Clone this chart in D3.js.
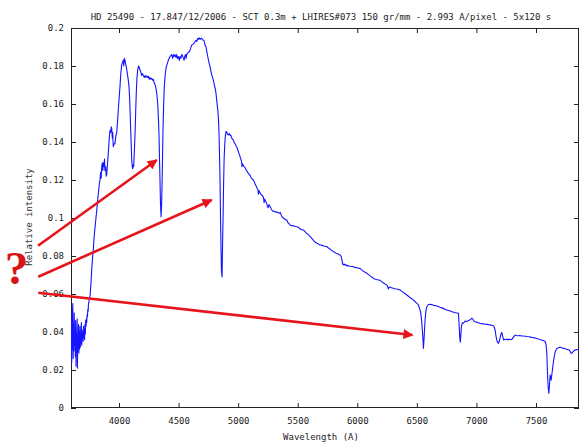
<!DOCTYPE html>
<html>
<head>
<meta charset="utf-8">
<script src="https://cdnjs.cloudflare.com/ajax/libs/d3/7.8.5/d3.min.js"></script>
<style>
  body { margin: 0; background: #fff; }
  svg { display: block; }
  .tick text { font-family: "DejaVu Sans Mono", monospace; font-size: 9px; fill: #222; }
  .tick line { stroke: #222; }
</style>
</head>
<body>
<div id="graph"></div>
<script>
const w = 587;
const h = 444;
const margin = { top: 28, right: 8, bottom: 36, left: 71 };

const title = "HD 25490 - 17.847/12/2006 - SCT 0.3m + LHIRES#073 150 gr/mm - 2.993 A/pixel - 5x120 s";
const xLabel = "Wavelength (A)";
const yLabel = "Relative intensity";

const xTicks = [4000, 4500, 5000, 5500, 6000, 6500, 7000, 7500];
const xTickLabels = ["4000", "4500", "5000", "5500", "6000", "6500", "7000", "7500"];
const yTicks = [0, 0.02, 0.04, 0.06, 0.08, 0.1, 0.12, 0.14, 0.16, 0.18, 0.2];
const yTickLabels = ["0", "0.02", "0.04", "0.06", "0.08", "0.1", "0.12", "0.14", "0.16", "0.18", "0.2"];

// spectrum
const wavelength = [
  3597, 3600, 3603, 3606, 3609, 3612, 3615, 3618, 3621, 3624, 3627, 3630, 3633, 3636, 3639, 3642, 3645, 3648, 3651, 3654,
  3657, 3660, 3663, 3666, 3669, 3672, 3675, 3678, 3681, 3684, 3687, 3690, 3693, 3696, 3699, 3702, 3705, 3708, 3711, 3714,
  3717, 3720, 3723, 3726, 3729, 3732, 3735, 3738, 3741, 3744, 3748, 3752, 3757, 3765, 3772, 3778, 3784, 3790, 3797, 3805,
  3813, 3820, 3827, 3833, 3840, 3846, 3850, 3855, 3860, 3864, 3868, 3874, 3878, 3882, 3888, 3893, 3897, 3903, 3910, 3917,
  3924, 3930, 3935, 3939, 3944, 3947, 3952, 3958, 3966, 3973, 3981, 3988, 3994, 4001, 4008, 4015, 4023, 4030, 4036, 4040,
  4044, 4050, 4056, 4063, 4070, 4077, 4084, 4090, 4095, 4101, 4107, 4111, 4115, 4119, 4123, 4128, 4134, 4140, 4145, 4151,
  4157, 4163, 4168, 4175, 4182, 4190, 4197, 4204, 4212, 4220, 4226, 4233, 4240, 4247, 4254, 4260, 4268, 4275, 4282, 4288,
  4296, 4304, 4311, 4318, 4325, 4331, 4336, 4340, 4344, 4348, 4353, 4357, 4361, 4365, 4369, 4374, 4380, 4387, 4395, 4404,
  4414, 4428, 4442, 4450, 4456, 4463, 4470, 4478, 4484, 4490, 4498, 4506, 4512, 4519, 4526, 4533, 4540, 4546, 4552, 4558,
  4563, 4568, 4578, 4590, 4600, 4610, 4622, 4630, 4638, 4646, 4654, 4660, 4666, 4674, 4682, 4690, 4694, 4700, 4708, 4714,
  4722, 4730, 4736, 4745, 4754, 4764, 4772, 4780, 4792, 4800, 4808, 4814, 4820, 4825, 4829, 4835, 4840, 4844, 4848, 4852,
  4856, 4860, 4865, 4869, 4873, 4878, 4882, 4887, 4892, 4898, 4904, 4910, 4918, 4925, 4932, 4938, 4946, 4953, 4960, 4968,
  4975, 4982, 4988, 4996, 5004, 5010, 5016, 5022, 5028, 5032, 5037, 5041, 5050, 5058, 5065, 5072, 5080, 5090, 5100, 5110,
  5120, 5128, 5135, 5142, 5150, 5160, 5166, 5170, 5175, 5182, 5190, 5200, 5206, 5212, 5218, 5222, 5230, 5240, 5246, 5252,
  5258, 5264, 5268, 5276, 5285, 5295, 5305, 5315, 5324, 5335, 5345, 5352, 5362, 5370, 5380, 5390, 5400, 5408, 5418, 5428,
  5436, 5446, 5458, 5470, 5480, 5492, 5505, 5515, 5525, 5537, 5547, 5560, 5572, 5585, 5595, 5604, 5615, 5625, 5635, 5648,
  5660, 5670, 5680, 5692, 5705, 5720, 5732, 5744, 5755, 5767, 5780, 5790, 5799, 5810, 5822, 5835, 5846, 5856, 5864, 5870,
  5876, 5883, 5890, 5897, 5904, 5911, 5922, 5935, 5950, 5967, 5980, 5995, 6010, 6023, 6035, 6050, 6065, 6080, 6095, 6110,
  6125, 6135, 6148, 6162, 6176, 6191, 6205, 6220, 6235, 6248, 6255, 6261, 6267, 6275, 6285, 6295, 6303, 6315, 6330, 6345,
  6359, 6375, 6390, 6405, 6415, 6430, 6445, 6460, 6471, 6482, 6493, 6505, 6513, 6520, 6527, 6533, 6540, 6546, 6550, 6555,
  6560, 6565, 6569, 6576, 6583, 6597, 6611, 6625, 6640, 6655, 6667, 6680, 6695, 6710, 6725, 6740, 6751, 6765, 6780, 6795,
  6810, 6825, 6840, 6849, 6853, 6857, 6861, 6865, 6870, 6874, 6882, 6890, 6898, 6905, 6912, 6919, 6930, 6940, 6950, 6961,
  6968, 6975, 6982, 6989, 7000, 7015, 7031, 7045, 7060, 7075, 7090, 7105, 7120, 7135, 7143, 7150, 7157, 7164, 7171, 7178,
  7185, 7192, 7199, 7206, 7213, 7220, 7227, 7235, 7245, 7255, 7265, 7275, 7285, 7297, 7305, 7315, 7325, 7335, 7350, 7365,
  7380, 7395, 7410, 7425, 7440, 7455, 7470, 7485, 7500, 7507, 7520, 7535, 7550, 7565, 7577, 7584, 7591, 7595, 7599, 7603,
  7608, 7613, 7619, 7623, 7627, 7634, 7641, 7650, 7661, 7672, 7683, 7694, 7705, 7715, 7726, 7736, 7750, 7765, 7778, 7785,
  7792, 7800, 7810, 7820, 7835, 7850, 7862
];
const intensity = [
  0.028, 0.047, 0.024, 0.052, 0.031, 0.055, 0.026, 0.044, 0.030, 0.050, 0.033, 0.041, 0.027, 0.046, 0.022, 0.039, 0.030, 0.047, 0.021, 0.037,
  0.033, 0.044, 0.029, 0.040, 0.031, 0.043, 0.032, 0.038, 0.034, 0.045, 0.033, 0.041, 0.036, 0.039, 0.035, 0.043, 0.037, 0.041, 0.036, 0.044,
  0.039, 0.046, 0.043, 0.047, 0.045, 0.049, 0.048, 0.052, 0.051, 0.055, 0.056, 0.058, 0.059, 0.066, 0.074, 0.079, 0.083, 0.089, 0.094, 0.099,
  0.104, 0.109, 0.113, 0.117, 0.120, 0.124, 0.121, 0.127, 0.129, 0.125, 0.129, 0.127, 0.131, 0.125, 0.127, 0.122, 0.123, 0.128, 0.134, 0.141,
  0.146, 0.145, 0.148, 0.147, 0.142, 0.145, 0.1375, 0.139, 0.139, 0.143, 0.145, 0.151, 0.157, 0.163, 0.169, 0.176, 0.181, 0.182, 0.183, 0.180,
  0.184, 0.183, 0.181, 0.179, 0.176, 0.173, 0.169, 0.162, 0.152, 0.141, 0.1305, 0.127, 0.126, 0.128, 0.127, 0.134, 0.143, 0.156, 0.166, 0.174,
  0.178, 0.180, 0.1797, 0.178, 0.177, 0.175, 0.176, 0.175, 0.174, 0.175, 0.174, 0.1747, 0.174, 0.1745, 0.173, 0.174, 0.173, 0.1735, 0.1725, 0.173,
  0.171, 0.170, 0.168, 0.165, 0.160, 0.152, 0.143, 0.131, 0.120, 0.108, 0.1007, 0.106, 0.1165, 0.131, 0.146, 0.158, 0.169, 0.175, 0.179, 0.181,
  0.183, 0.185, 0.186, 0.184, 0.186, 0.185, 0.186, 0.1845, 0.186, 0.184, 0.185, 0.183, 0.185, 0.184, 0.186, 0.1855, 0.184, 0.183, 0.185, 0.186,
  0.184, 0.186, 0.187, 0.1875, 0.189, 0.191, 0.1915, 0.192, 0.1928, 0.1935, 0.193, 0.1945, 0.194, 0.1948, 0.194, 0.1946, 0.1946, 0.194, 0.1935, 0.1933,
  0.191, 0.190, 0.188, 0.185, 0.182, 0.1797, 0.177, 0.175, 0.1726, 0.170, 0.168, 0.1656, 0.162, 0.159, 0.157, 0.152, 0.143, 0.132, 0.120, 0.100,
  0.085, 0.072, 0.069, 0.085, 0.099, 0.118, 0.1305, 0.138, 0.143, 0.1455, 0.1455, 0.144, 0.1437, 0.1445, 0.1435, 0.1437, 0.142, 0.1415, 0.141, 0.1395,
  0.139, 0.138, 0.1375, 0.136, 0.1345, 0.1335, 0.1323, 0.131, 0.130, 0.127, 0.1285, 0.128, 0.127, 0.1265, 0.1255, 0.125, 0.124, 0.123, 0.1225, 0.121,
  0.1205, 0.120, 0.119, 0.118, 0.117, 0.1155, 0.115, 0.1125, 0.1145, 0.1135, 0.1125, 0.112, 0.1115, 0.111, 0.108, 0.110, 0.109, 0.1077, 0.106, 0.1055,
  0.107, 0.1065, 0.106, 0.105, 0.104, 0.1035, 0.1035, 0.103, 0.1033, 0.1028, 0.1025, 0.103, 0.1015, 0.1005, 0.100, 0.0995, 0.099, 0.099, 0.0975, 0.097,
  0.0963, 0.096, 0.096, 0.0958, 0.0955, 0.0954, 0.0952, 0.0945, 0.094, 0.0938, 0.0937, 0.093, 0.092, 0.0915, 0.0908, 0.0902, 0.0895, 0.0888, 0.088, 0.0872,
  0.0867, 0.0865, 0.086, 0.0858, 0.0856, 0.0853, 0.085, 0.085, 0.0843, 0.0838, 0.0832, 0.0828, 0.0823, 0.082, 0.0815, 0.0812, 0.0808, 0.0805, 0.0798, 0.0785,
  0.076, 0.0753, 0.0758, 0.0752, 0.0755, 0.0748, 0.075, 0.0746, 0.0745, 0.0744, 0.074, 0.0738, 0.0736, 0.0735, 0.0728, 0.072, 0.0715, 0.0709, 0.0702, 0.0694,
  0.0688, 0.0682, 0.0679, 0.0676, 0.0674, 0.0672, 0.0665, 0.0658, 0.0652, 0.0647, 0.064, 0.0626, 0.0635, 0.0637, 0.0633, 0.0632, 0.063, 0.0628, 0.0626, 0.0624,
  0.0621, 0.0614, 0.0607, 0.060, 0.0595, 0.0588, 0.058, 0.0574, 0.0568, 0.0562, 0.0555, 0.0548, 0.0542, 0.053, 0.0515, 0.050, 0.046, 0.041, 0.0375, 0.0314,
  0.036, 0.042, 0.0463, 0.051, 0.0533, 0.0545, 0.0546, 0.0544, 0.0541, 0.0539, 0.0537, 0.0534, 0.053, 0.0527, 0.0523, 0.0519, 0.0516, 0.0513, 0.051, 0.0507,
  0.0504, 0.0501, 0.050, 0.0498, 0.046, 0.041, 0.0365, 0.0346, 0.039, 0.043, 0.0448, 0.0446, 0.0452, 0.0458, 0.0455, 0.0455, 0.046, 0.0462, 0.0466, 0.0472,
  0.047, 0.0462, 0.0456, 0.0454, 0.0452, 0.0449, 0.0446, 0.0444, 0.0443, 0.0441, 0.044, 0.0438, 0.0436, 0.0434, 0.0433, 0.0425, 0.041, 0.038, 0.0358, 0.0345,
  0.034, 0.0352, 0.037, 0.0388, 0.0398, 0.038, 0.0358, 0.0362, 0.036, 0.0362, 0.0358, 0.0364, 0.036, 0.0361, 0.0368, 0.0377, 0.0384, 0.0382, 0.038, 0.0381,
  0.0379, 0.0379, 0.0378, 0.0376, 0.0375, 0.0373, 0.0371, 0.0369, 0.0367, 0.0366, 0.0363, 0.036, 0.0357, 0.0354, 0.035, 0.0335, 0.0287, 0.021, 0.0147, 0.0105,
  0.0077, 0.012, 0.0174, 0.016, 0.0147, 0.018, 0.0217, 0.026, 0.0296, 0.031, 0.0316, 0.0319, 0.032, 0.0317, 0.0315, 0.0314, 0.0311, 0.0308, 0.0305, 0.030,
  0.0291, 0.0288, 0.0295, 0.0302, 0.0306, 0.0308, 0.0309
];

// red annotation arrows, in data units (start points sit left of the plot)
const arrowFromWl = [3320, 3322, 3322];
const arrowFromVal = [0.0854, 0.0691, 0.0607];
const arrowToWl = [4317, 4778, 6463];
const arrowToVal = [0.1305, 0.1095, 0.0384];
const markText = "?";
const markWl = 3140;
const markVal = 0.0652;

const spectrum = wavelength.map((d, i) => [d, intensity[i]]);

const xScale = d3.scaleLinear().
domain([3597, 7861]).
range([margin.left, w - margin.right]);

const yScale = d3.scaleLinear().
domain([0, 0.2]).
range([h - margin.bottom, margin.top]);

const svg = d3.select("#graph").
append("svg").
attr("width", w).
attr("height", h);

svg.append("rect").
attr("width", w).
attr("height", h).
attr("fill", "#fff");

const defs = svg.append("defs");
defs.append("clipPath").
attr("id", "plotClip").
append("rect").
attr("x", margin.left).
attr("y", margin.top).
attr("width", w - margin.left - margin.right).
attr("height", h - margin.top - margin.bottom);

defs.append("marker").
attr("id", "head").
attr("viewBox", "0 0 10 10").
attr("refX", 9).
attr("refY", 5).
attr("markerUnits", "userSpaceOnUse").
attr("markerWidth", 11).
attr("markerHeight", 10).
attr("orient", "auto").
append("path").
attr("d", "M0,0 L10,5 L0,10 Z").
attr("fill", "#e8141c");

// axes, gnuplot style: inward ticks on all four sides
const xAxis = d3.axisBottom(xScale).
tickValues(xTicks).
tickFormat((d, i) => xTickLabels[i]).
tickSize(-5).
tickPadding(10);

const yAxis = d3.axisLeft(yScale).
tickValues(yTicks).
tickFormat((d, i) => yTickLabels[i]).
tickSize(-5).
tickPadding(7);

svg.append("g").
attr("transform", "translate(0," + (h - margin.bottom) + ")").
call(xAxis).
call(g => g.select(".domain").remove());

svg.append("g").
attr("transform", "translate(" + margin.left + ",0)").
call(yAxis).
call(g => g.select(".domain").remove());

svg.append("g").
attr("transform", "translate(0," + margin.top + ")").
call(d3.axisTop(xScale).tickValues(xTicks).tickFormat("").tickSize(-5)).
call(g => g.select(".domain").remove());

svg.append("g").
attr("transform", "translate(" + (w - margin.right) + ",0)").
call(d3.axisRight(yScale).tickValues(yTicks).tickFormat("").tickSize(-5)).
call(g => g.select(".domain").remove());

svg.append("rect").
attr("x", margin.left + 0.5).
attr("y", margin.top + 0.5).
attr("width", w - margin.left - margin.right - 1).
attr("height", h - margin.top - margin.bottom - 1).
attr("fill", "none").
attr("stroke", "#222");

// spectrum line
const line = d3.line().
x(d => xScale(d[0])).
y(d => yScale(d[1]));

svg.append("path").
datum(spectrum).
attr("clip-path", "url(#plotClip)").
attr("d", line).
attr("fill", "none").
attr("stroke", "#1414ff").
attr("stroke-width", 1.1).
attr("stroke-linejoin", "round");

// texts
svg.append("text").
attr("x", 321).
attr("y", 20).
attr("text-anchor", "middle").
style("font-family", "'DejaVu Sans Mono', monospace").
style("font-size", "9px").
attr("fill", "#222").
text(title);

svg.append("text").
attr("x", 321).
attr("y", 440).
attr("text-anchor", "middle").
style("font-family", "'DejaVu Sans Mono', monospace").
style("font-size", "9px").
attr("fill", "#222").
text(xLabel);

svg.append("text").
attr("transform", "translate(32,217) rotate(-90)").
attr("text-anchor", "middle").
style("font-family", "'DejaVu Sans Mono', monospace").
style("font-size", "9px").
attr("fill", "#333").
text(yLabel);

// annotation
svg.selectAll(".arrow").
data(arrowFromWl).
enter().
append("line").
attr("class", "arrow").
attr("x1", (d, i) => xScale(d)).
attr("y1", (d, i) => yScale(arrowFromVal[i])).
attr("x2", (d, i) => xScale(arrowToWl[i])).
attr("y2", (d, i) => yScale(arrowToVal[i])).
attr("stroke", "#e8141c").
attr("stroke-width", 2.6).
attr("marker-end", "url(#head)");

svg.append("text").
attr("x", xScale(markWl)).
attr("y", yScale(markVal)).
attr("text-anchor", "middle").
style("font-family", "'Liberation Serif', serif").
style("font-weight", "bold").
style("font-size", "47px").
attr("fill", "#d81418").
text(markText);
</script>
</body>
</html>
